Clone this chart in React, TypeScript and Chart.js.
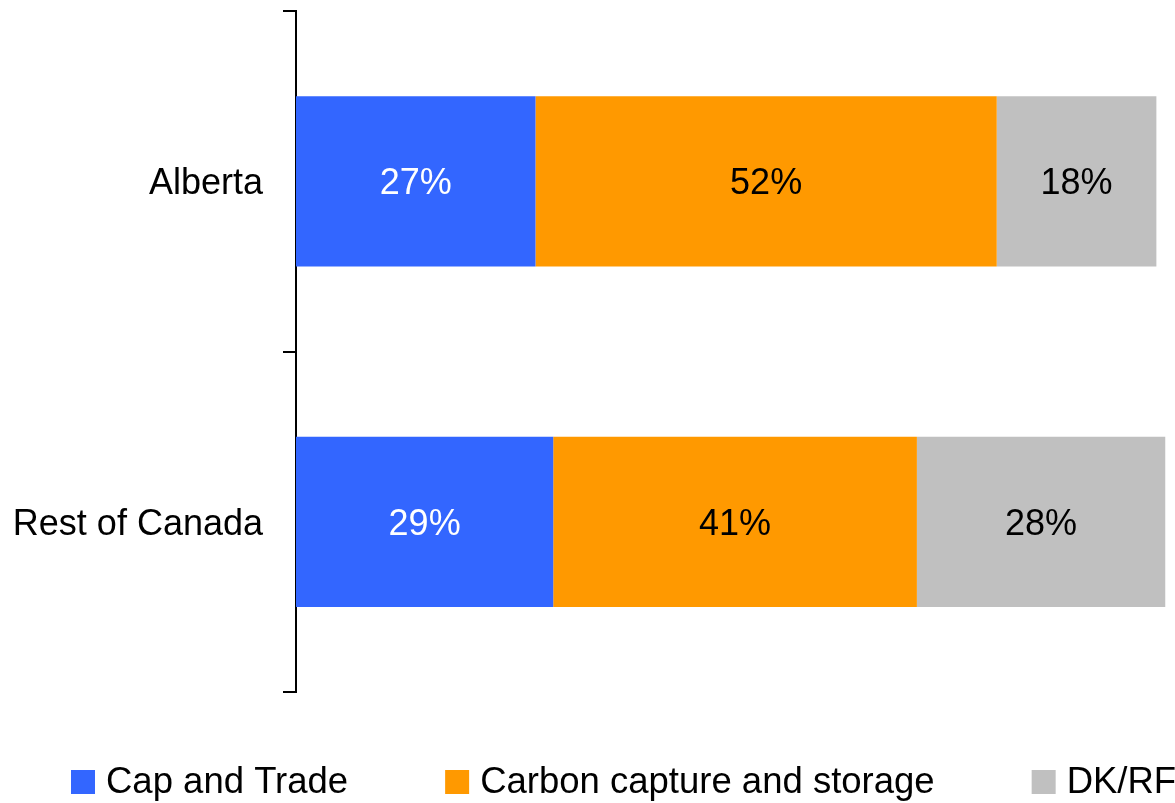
import React, { useEffect, useRef } from "react";
import { Chart, registerables } from "chart.js";

Chart.register(...registerables);

const categories = ["Alberta", "Rest of Canada"];
const seriesNames = ["Cap and Trade", "Carbon capture and storage", "DK/RF"];
const capAndTrade = [27, 29];
const carbonCapture = [52, 41];
const dkrf = [18, 28];
const seriesColors = ["#3366FF", "#FF9900", "#C0C0C0"];
const labelColors = ["#FFFFFF", "#000000", "#000000"];

const FONT = '"Liberation Sans", Arial, Helvetica, sans-serif';

const valueLabelPlugin = {
  id: "valueLabels",
  afterDatasetsDraw(chart: any) {
    const ctx = chart.ctx;
    ctx.save();
    ctx.font = `36px ${FONT}`;
    ctx.textAlign = "center";
    ctx.textBaseline = "middle";
    chart.data.datasets.forEach((ds: any, di: number) => {
      const meta = chart.getDatasetMeta(di);
      meta.data.forEach((el: any, i: number) => {
        const v = ds.data[i];
        const cx = (el.x + el.base) / 2;
        ctx.fillStyle = labelColors[di];
        ctx.fillText(`${v}%`, cx, el.y + 3);
      });
    });
    ctx.restore();
  },
};

const customLegendPlugin = {
  id: "customLegend",
  afterDraw(chart: any) {
    const ctx = chart.ctx;
    ctx.save();
    ctx.font = `36.5px ${FONT}`;
    ctx.textBaseline = "middle";
    ctx.textAlign = "left";
    const box = 24;
    const gapText = 11;
    const gapItem = 97;
    let x = 71;
    const y = 782;
    chart.data.datasets.forEach((ds: any) => {
      ctx.fillStyle = ds.backgroundColor;
      ctx.fillRect(x, y - box / 2, box, box);
      x += box + gapText;
      ctx.fillStyle = "#000000";
      ctx.fillText(ds.label, x, y + 1);
      x += ctx.measureText(ds.label).width + gapItem;
    });
    ctx.restore();
  },
};

export default function App() {
  const canvasRef = useRef<HTMLCanvasElement | null>(null);

  useEffect(() => {
    if (!canvasRef.current) return;
    Chart.defaults.font.family = FONT;
    const seriesValues = [capAndTrade, carbonCapture, dkrf];
    const chart = new Chart(canvasRef.current, {
      type: "bar",
      data: {
        labels: categories,
        datasets: seriesNames.map((name, i) => ({
          label: name,
          data: seriesValues[i],
          backgroundColor: seriesColors[i],
          borderWidth: 0,
          barPercentage: 0.5,
          categoryPercentage: 1,
        })),
      },
      options: {
        indexAxis: "y",
        animation: false,
        responsive: false,
        maintainAspectRatio: false,
        layout: { padding: { top: 11, bottom: 111, left: 0, right: 67 } },
        plugins: {
          legend: { display: false },
          tooltip: { enabled: false },
        },
        scales: {
          x: {
            stacked: true,
            display: false,
            min: 0,
            max: 100,
          },
          y: {
            stacked: true,
            afterFit(scale: any) {
              scale.width = 296;
              scale.paddingTop = 0;
              scale.paddingBottom = 0;
            },
            grid: {
              display: true,
              drawOnChartArea: false,
              drawTicks: true,
              tickLength: 13,
              lineWidth: 2,
              color: "#000000",
              offset: true,
            },
            border: { display: true, color: "#000000", width: 2 },
            ticks: {
              color: "#000000",
              padding: 20,
              labelOffset: 3,
              font: { size: 36, family: FONT },
            },
          },
        },
      },
      plugins: [valueLabelPlugin, customLegendPlugin],
    });
    return () => chart.destroy();
  }, []);

  return (
    <div
      style={{
        position: "fixed",
        left: 0,
        top: 0,
        width: 1175,
        height: 803,
        overflow: "hidden",
        background: "#ffffff",
      }}
    >
      <canvas
        ref={canvasRef}
        width={1250}
        height={803}
        style={{ display: "block", width: 1250, height: 803 }}
      />
    </div>
  );
}
